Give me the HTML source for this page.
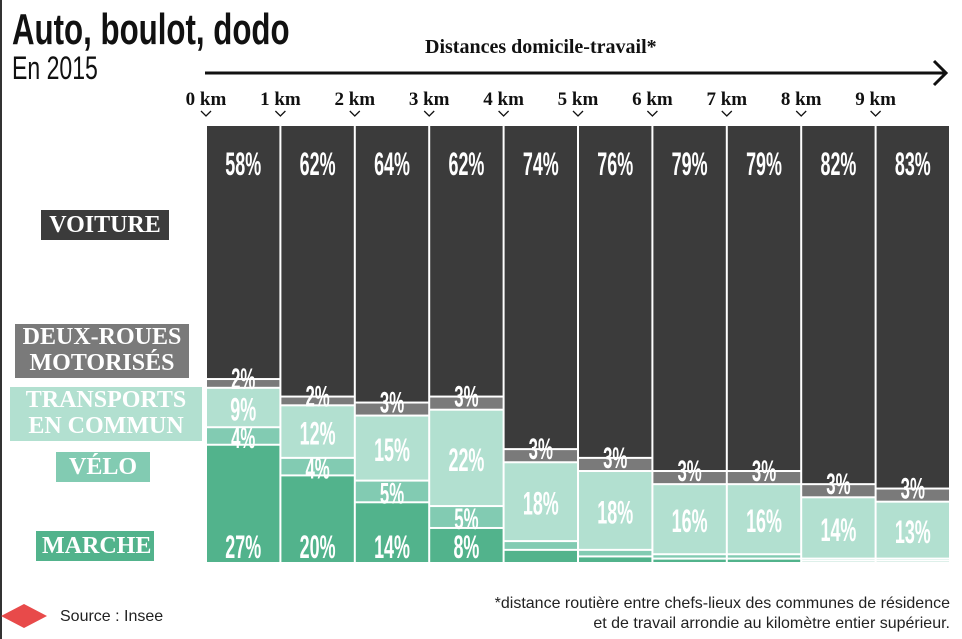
<!DOCTYPE html>
<html><head><meta charset="utf-8"><style>
body{margin:0;background:#fff;width:962px;height:639px;overflow:hidden;position:relative;font-family:"Liberation Sans",sans-serif}
.t{position:absolute;white-space:nowrap}
.lg{position:absolute;font-family:"Liberation Serif","DejaVu Serif",serif;font-weight:bold;color:#fff;text-align:center;line-height:24px;font-size:24px;padding:0 6px}
</style></head><body>
<div style="position:absolute;left:0;top:0;width:2px;height:639px;background:#333"></div>
<div class="t" style="left:12px;top:5px;font-weight:bold;font-size:44px;transform:scaleX(0.71);transform-origin:left;color:#111">Auto, boulot, dodo</div>
<div class="t" style="left:12px;top:50px;font-size:32px;transform:scaleX(0.72);transform-origin:left;color:#111">En 2015</div>
<div class="t" style="left:425px;top:36px;font-family:'Liberation Serif',serif;font-weight:bold;font-size:20px;color:#111">Distances domicile-travail*</div>
<svg id="chart" width="962" height="639" style="position:absolute;left:0;top:0"></svg>
<div class="lg" style="left:41px;top:210px;background:#3b3b3b;width:116px;height:30px;line-height:30px">VOITURE</div>
<div class="lg" style="left:15px;top:324px;background:#7a7a7a;width:162px;height:54px;line-height:26px">DEUX-ROUES<br>MOTORISÉS</div>
<div class="lg" style="left:10px;top:387px;background:#b2e0d0;width:180px;height:54px;line-height:26px">TRANSPORTS<br>EN COMMUN</div>
<div class="lg" style="left:56px;top:452px;background:#82cbb2;width:82px;height:30px;line-height:30px">VÉLO</div>
<div class="lg" style="left:36px;top:531px;background:#52b38c;width:106px;height:30px;line-height:30px">MARCHE</div>
<svg class="t" style="left:0;top:601px" width="50" height="30"><polygon points="1,15 24,3 47,15 24,27" fill="#e84a4a"/></svg>
<div class="t" style="left:60px;top:608px;font-size:16px;color:#222">Source : Insee</div>
<div class="t" style="right:12px;top:594px;font-size:16px;color:#222;text-align:right;line-height:20px">*distance routière entre chefs-lieux des communes de résidence<br>et de travail arrondie au kilomètre entier supérieur.</div>
<script>
const categories=["0 km","1 km","2 km","3 km","4 km","5 km","6 km","7 km","8 km","9 km"];
const marche=[27,20,14,8,3,1.5,1,1,0.5,0.5];
const velo=[4,4,5,5,2,1.5,1,1,0.5,0.5];
const transports=[9,12,15,22,18,18,16,16,14,13];
const deuxRoues=[2,2,3,3,3,3,3,3,3,3];
const voiture=[58,62,64,62,74,76,79,79,82,83];
const marcheLabels=["27%","20%","14%","8%","","","","","",""];
const veloLabels=["4%","4%","5%","5%","","","","","",""];
const svg=document.getElementById('chart');const NS="http://www.w3.org/2000/svg";
const X0=206,X1=950,Y0=126,Y1=564,cw=(X1-X0)/categories.length;
const xPos=i=>X0+i*cw;
function mk(tag,a,name){const e=document.createElementNS(NS,tag);for(const k in a)e.setAttribute(k,a[k]);


svg.appendChild(e);return e;}
function txt(x,y,s,name,size){const t=mk('text',{x:0,y:0,transform:`translate(${x},${y}) scale(0.56,1)`,fill:'#fff','font-family':'Liberation Sans, sans-serif','font-weight':'bold','font-size':size||31,'text-anchor':'middle'},name);t.textContent=s;return t;}
mk('line',{x1:205,y1:73,x2:944,y2:73,stroke:'#111','stroke-width':3},'axis-arrow-line');
mk('polyline',{points:'934,61 946,73 934,85',fill:'none',stroke:'#111','stroke-width':3},'axis-arrow-head');
categories.forEach((c,i)=>{
 const x=xPos(i);
 const t=mk('text',{x:x,y:105,'font-family':'Liberation Serif, serif','font-weight':'bold','font-size':19,fill:'#111','text-anchor':'middle'},'tick-label');t.textContent=c;
 mk('polyline',{points:`${x-5},111 ${x},116 ${x+5},111`,fill:'none',stroke:'#111','stroke-width':1.3},'tick-chevron');
 const series=[[marche,'#52b38c','marche'],[velo,'#82cbb2','velo'],[transports,'#b2e0d0','transports'],[deuxRoues,'#7a7a7a','deux-roues'],[voiture,'#3b3b3b','voiture']];
 const tot=series.reduce((s,a)=>s+a[0][i],0);
 let y=Y1;const segs=[];
 series.forEach(([arr,col,nm])=>{const h=arr[i]/tot*(Y1-Y0);const top=y-h;
  mk('rect',{x:x+1,y:top,width:cw-2,height:Math.max(0,h-2),fill:col,stroke:'none'},'bar-'+nm+'-'+i);
  segs.push([top,h]);y=top;});
 const cx=x+cw/2;
 txt(cx,175,voiture[i]+'%','value-voiture',32);
 txt(cx,segs[3][0]+9,deuxRoues[i]+'%','value-deux-roues',30);
 txt(cx,segs[2][0]+segs[2][1]/2+12,transports[i]+'%','value-transports',32);
 if(veloLabels[i])txt(cx,segs[1][0]+segs[1][1]/2+11,veloLabels[i],'value-velo',30);
 if(marcheLabels[i])txt(cx,558,marcheLabels[i],'value-marche',32);
});
</script>
</body></html>
